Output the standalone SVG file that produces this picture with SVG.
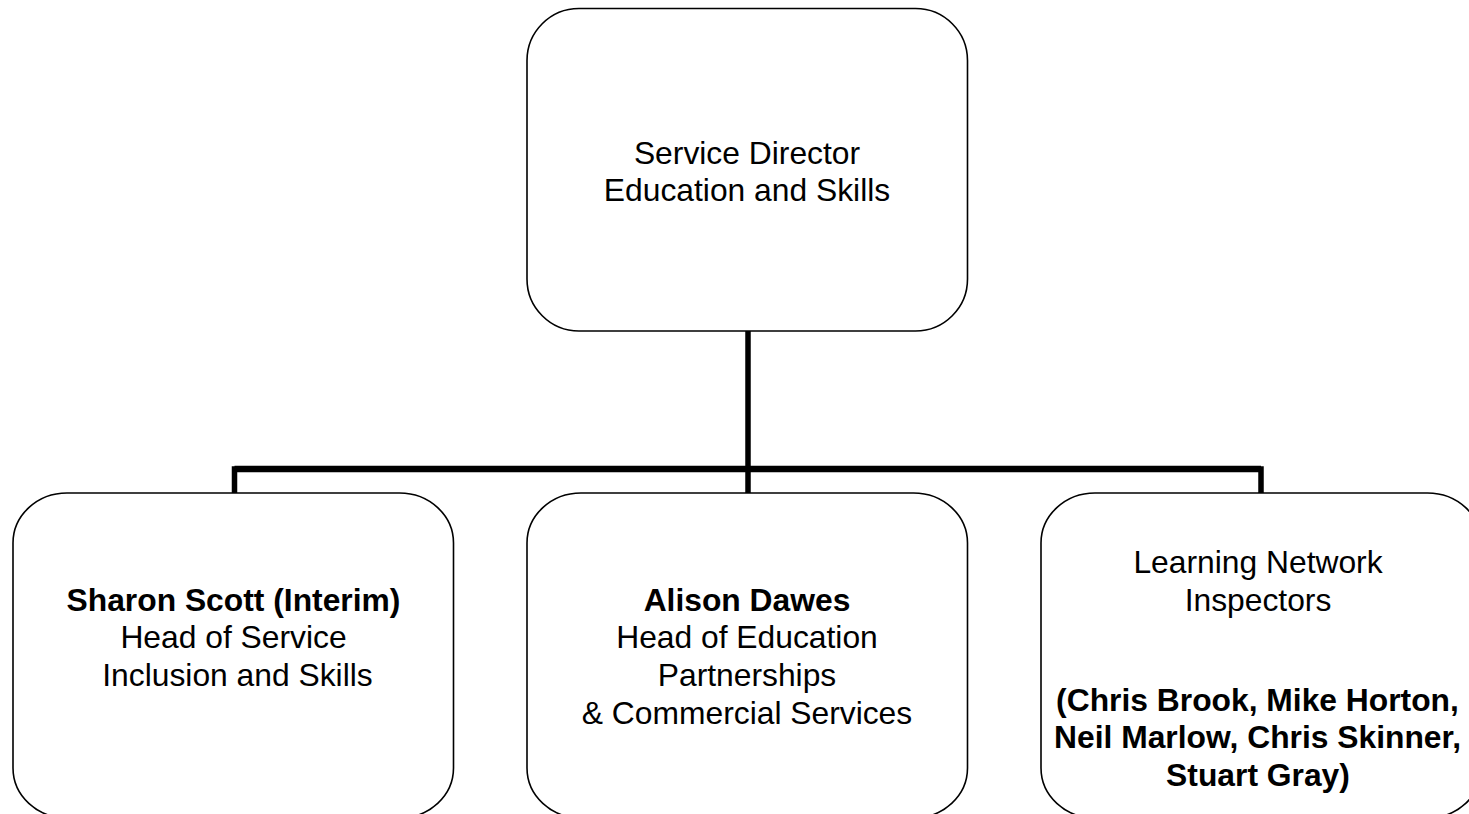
<svg xmlns="http://www.w3.org/2000/svg" width="1469" height="814" viewBox="0 0 1469 814">
<style>
.box{fill:#fff;stroke:#000;stroke-width:1.6}
.t{font-family:"Liberation Sans",Arial,sans-serif;font-size:31.8px;fill:#000;text-anchor:middle}
.b{font-weight:bold}
.c{fill:none;stroke:#000;stroke-linejoin:miter;stroke-linecap:butt}
</style>
<rect width="1469" height="814" fill="#fff"/>
<g id="connectors">
<path class="c" d="M748 331 V493" stroke-width="5.5"/>
<path class="c" d="M234.5 493 V469 H1261 V493" stroke-width="5.5"/>
<path class="c" d="M234.5 469 H1261" stroke-width="6.5"/>
</g>
<g id="director">
<rect class="box" x="527" y="8.5" width="440.5" height="322.5" rx="52" ry="52"/>
<text class="t" x="747" y="163.5">Service Director</text>
<text class="t" x="747" y="201">Education and Skills</text>
</g>
<g id="sharon">
<rect class="box" x="13" y="493" width="440.5" height="325" rx="54" ry="50"/>
<text class="t b" x="233.5" y="610.5">Sharon Scott (Interim)</text>
<text class="t" x="233.5" y="648">Head of Service</text>
<text class="t" x="237.5" y="686">Inclusion and Skills</text>
</g>
<g id="alison">
<rect class="box" x="527" y="493" width="440.5" height="325" rx="54" ry="50"/>
<text class="t b" x="747" y="610.5">Alison Dawes</text>
<text class="t" x="747" y="648">Head of Education</text>
<text class="t" x="747" y="686">Partnerships</text>
<text class="t" x="747" y="723.5">&amp; Commercial Services</text>
</g>
<g id="inspectors">
<rect class="box" x="1041" y="493" width="440.5" height="325" rx="54" ry="50"/>
<text class="t" x="1258" y="573">Learning Network</text>
<text class="t" x="1258" y="611">Inspectors</text>
<text class="t b" x="1257.5" y="710.5">(Chris Brook, Mike Horton,</text>
<text class="t b" x="1257.5" y="748">Neil Marlow, Chris Skinner,</text>
<text class="t b" x="1258" y="786">Stuart Gray)</text>
</g>
</svg>
